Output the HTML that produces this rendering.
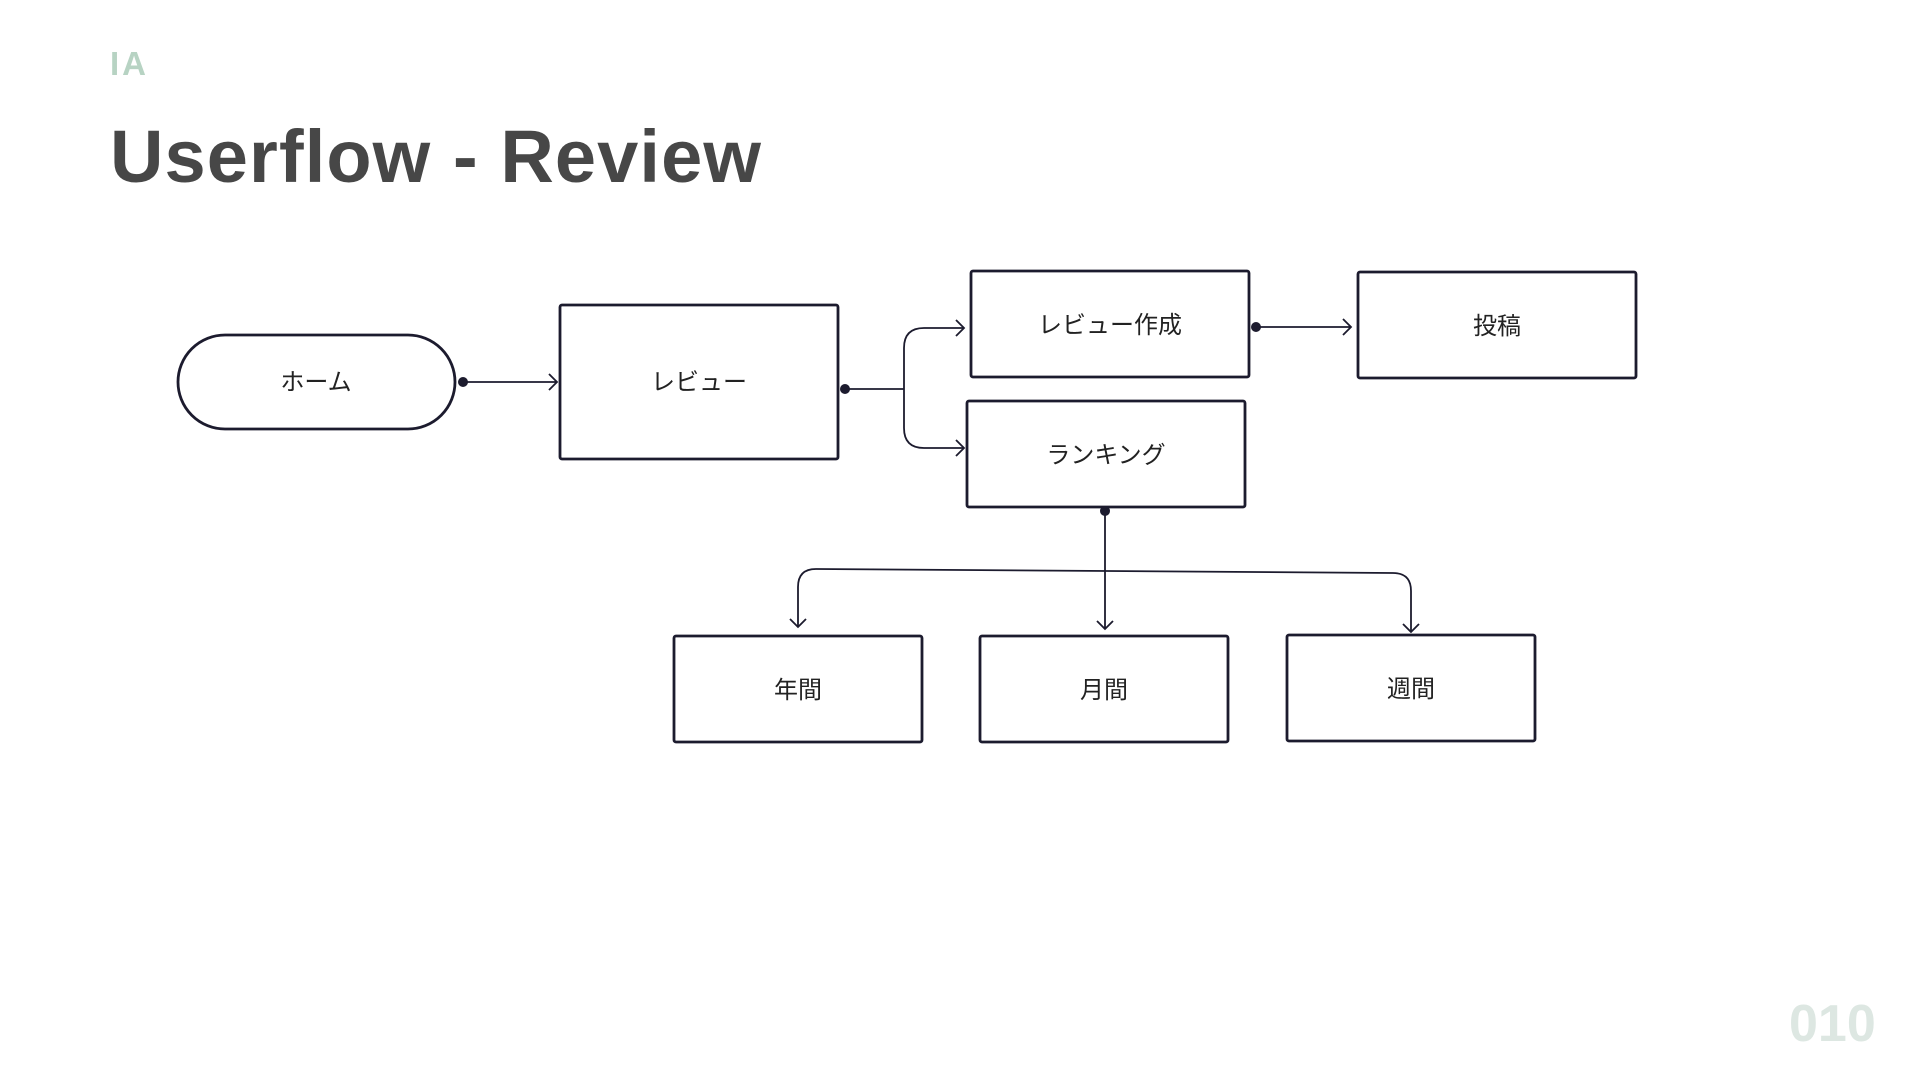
<!DOCTYPE html>
<html><head><meta charset="utf-8"><style>
html,body{margin:0;padding:0;background:#fff;}
body{width:1920px;height:1080px;position:relative;overflow:hidden;font-family:"Liberation Sans","Noto Sans CJK JP",sans-serif;}
.ia{position:absolute;left:110px;top:45px;font-size:33px;font-weight:bold;color:#b7d3c3;letter-spacing:3px;}
.title{position:absolute;left:110px;top:114px;font-size:74px;font-weight:bold;color:#474747;letter-spacing:1.1px;}
.num{position:absolute;left:1789px;top:994px;font-size:52px;font-weight:bold;color:#dde7e2;}
svg{position:absolute;left:0;top:0;}
text{font-family:"Liberation Sans","Noto Sans CJK JP",sans-serif;font-size:24px;fill:#222;}
</style></head><body>
<div class="ia">IA</div>
<div class="title">Userflow - Review</div>
<div class="num">010</div>
<svg width="1920" height="1080" viewBox="0 0 1920 1080">
<g fill="#fff" stroke="#1c1b2e" stroke-width="2.8">
<rect x="178" y="335" width="277" height="94" rx="47"/>
<rect x="560" y="305" width="278" height="154" rx="2"/>
<rect x="971" y="271" width="278" height="106" rx="2"/>
<rect x="1358" y="272" width="278" height="106" rx="2"/>
<rect x="967" y="401" width="278" height="106" rx="2"/>
<rect x="674" y="636" width="248" height="106" rx="2"/>
<rect x="980" y="636" width="248" height="106" rx="2"/>
<rect x="1287" y="635" width="248" height="106" rx="2"/>
</g>
<g fill="none" stroke="#1c1b2e" stroke-width="1.8">
<path d="M463 382H557M549 374l8 8-8 8"/>
<path d="M845 389H904"/>
<path d="M964 328H924q-20 0-20 20V428q0 20 20 20H964"/>
<path d="M956 320l8 8-8 8M956 440l8 8-8 8"/>
<path d="M1256 327H1351M1343 319l8 8-8 8"/>
<path d="M1105 511V629M1097 621l8 8 8-8"/>
<path d="M798 627V587q0-18 18-18L1393 573q18 0 18 18V632"/>
<path d="M790 619l8 8 8-8M1403 624l8 8 8-8"/>
</g>
<g fill="#1c1b2e">
<circle cx="463" cy="382" r="5"/>
<circle cx="845" cy="389" r="5"/>
<circle cx="1256" cy="327" r="5"/>
<circle cx="1105" cy="511" r="5"/>
</g>
<g text-anchor="middle">
<text x="316" y="390">ホーム</text>
<text x="699" y="390">レビュー</text>
<text x="1110" y="333">レビュー作成</text>
<text x="1497" y="334">投稿</text>
<text x="1106" y="463">ランキング</text>
<text x="798" y="698">年間</text>
<text x="1104" y="698">月間</text>
<text x="1411" y="697">週間</text>
</g>
</svg>
</body></html>
